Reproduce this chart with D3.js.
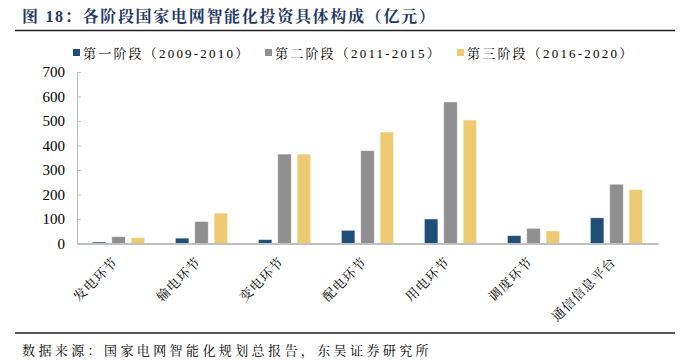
<!DOCTYPE html>
<html><head><meta charset="utf-8">
<script src="https://cdn.jsdelivr.net/npm/d3@7"></script>
<style>
html,body{margin:0;padding:0;background:#fff;}
text{font-family:"Liberation Serif","Noto Serif CJK SC","Noto Sans CJK SC",serif;}
</style></head><body>
<svg id="chart" width="682" height="362"></svg>
<script>
const categories = ["发电环节","输电环节","变电环节","配电环节","用电环节","调度环节","通信信息平台"];
const seriesNames = ["第一阶段（2009-2010）","第二阶段（2011-2015）","第三阶段（2016-2020）"];
const stage1 = [6, 22, 16, 54, 100, 32, 105];
const stage2 = [28, 90, 365, 379, 578, 62, 242];
const stage3 = [24, 124, 365, 455, 504, 51, 220];
const yTicks = [0,100,200,300,400,500,600,700];
const colors = ["#1F4E79","#8F8F8F","#EDCB72"];
const titleText = "图 18：各阶段国家电网智能化投资具体构成（亿元）";
const sourceText = "数据来源：国家电网智能化规划总报告，东吴证券研究所";

const series = [stage1, stage2, stage3];
const svg = d3.select("#chart");
const m = {left:77, right:658, top:72, bottom:243.5};

// title
svg.append("text").attr("x",22).attr("y",22)
  .attr("font-size",16).attr("font-weight","bold").attr("fill","#1F3864")
  .attr("letter-spacing","1.7px")
  .text(titleText);
svg.append("line").attr("x1",15).attr("x2",675).attr("y1",30.5).attr("y2",30.5)
  .attr("stroke","#222").attr("stroke-width",1.5);

const x0 = d3.scaleBand().domain(categories).range([m.left, m.right]).paddingInner(0.37).paddingOuter(0.185);
const x1 = d3.scaleBand().domain([0,1,2]).range([0, x0.bandwidth()]).paddingInner(0.3);
const y = d3.scaleLinear().domain([0,700]).range([m.bottom, m.top]);

// y axis
const yAxis = d3.axisLeft(y).tickValues(yTicks).tickSize(-4).tickPadding(12);
const yg = svg.append("g").attr("transform",`translate(${m.left},0)`).call(yAxis);
yg.select(".domain").attr("stroke","#BFBFBF").attr("stroke-width",1);
yg.selectAll(".tick line").attr("stroke","#BFBFBF");
yg.selectAll(".tick text").attr("font-size",15).attr("fill","#000")
  .attr("font-family","Liberation Serif");

// bars
series.forEach((vals,si)=>{
  svg.append("g").selectAll("rect").data(vals).join("rect")
    .attr("x",(d,i)=>x0(categories[i])+x1(si))
    .attr("width",x1.bandwidth())
    .attr("y",d=>y(d))
    .attr("height",d=>y(0)-y(d))
    .attr("fill",colors[si])
    .attr("stroke","#ffffff").attr("stroke-opacity",0.6).attr("stroke-width",0.8);
});

// x axis
const xAxis = d3.axisBottom(x0).tickSize(0).tickFormat(d=>d);
const xg = svg.append("g").attr("transform",`translate(0,${m.bottom})`).call(xAxis);
xg.select(".domain").attr("stroke","#BFBFBF").attr("stroke-width",2);
xg.selectAll(".tick text")
  .attr("font-size",13).attr("fill","#000")
  .attr("font-family","Noto Sans CJK SC")
  .attr("letter-spacing","1px")
  .attr("text-anchor","end")
  .attr("transform","translate(-3,16) rotate(-45)")
  .attr("dy","0.35em").attr("y",0).attr("x",0);

// legend
const legendX = [73, 265, 457];
const lg = svg.append("g");
seriesNames.forEach((n,i)=>{
  lg.append("rect").attr("x",legendX[i]).attr("y",49).attr("width",7).attr("height",7).attr("fill",colors[i]);
  lg.append("text").attr("x",legendX[i]+10).attr("y",57.5).attr("font-size",13)
    .attr("font-family","Noto Sans CJK SC").attr("fill","#000").attr("letter-spacing","2.2px")
    .text(n);
});

// bottom line and source
svg.append("line").attr("x1",15).attr("x2",675).attr("y1",333).attr("y2",333)
  .attr("stroke","#222").attr("stroke-width",1.5);
svg.append("text").attr("x",22).attr("y",355).attr("font-size",13)
  .attr("font-family","Noto Sans CJK SC").attr("fill","#000").attr("letter-spacing","3.4px").text(sourceText);
</script>
</body></html>
